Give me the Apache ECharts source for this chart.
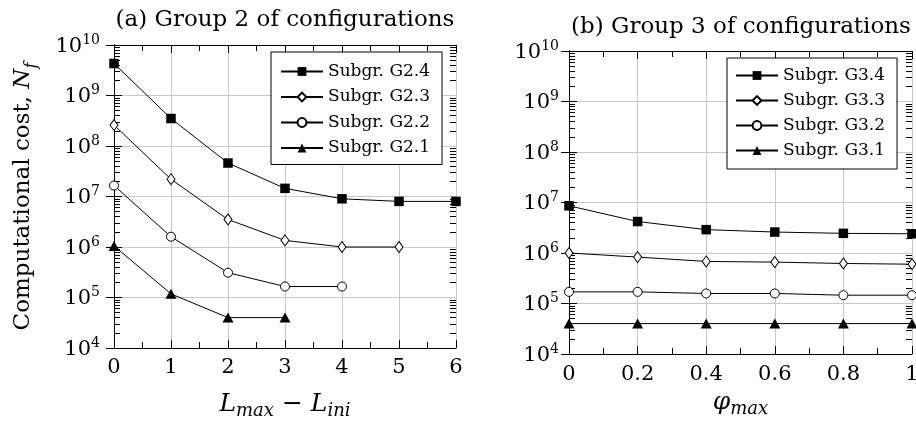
<!DOCTYPE html>
<html>
<head>
<meta charset="utf-8">
<script src="https://cdn.jsdelivr.net/npm/echarts@6/dist/echarts.min.js"></script>
<style>html,body{margin:0;padding:0;background:#fff}#c{width:916px;height:421px}</style>
</head>
<body>
<div id="c"></div>
<script>
// ---- data ----
const xA = [0, 1, 2, 3, 4, 5, 6];
const g24 = [4.3e9, 3.5e8, 4.6e7, 1.45e7, 9.0e6, 8.0e6, 8.0e6];
const g23 = [2.6e8, 2.2e7, 3.5e6, 1.35e6, 1.0e6, 1.0e6];
const g22 = [1.65e7, 1.6e6, 3.1e5, 1.65e5, 1.65e5];
const g21 = [1.05e6, 1.18e5, 4.0e4, 4.0e4];

const xB = [0, 0.2, 0.4, 0.6, 0.8, 1];
const g34 = [8.6e6, 4.2e6, 2.9e6, 2.6e6, 2.45e6, 2.4e6];
const g33 = [1.0e6, 8.3e5, 6.8e5, 6.6e5, 6.2e5, 6.0e5];
const g32 = [1.7e5, 1.7e5, 1.58e5, 1.58e5, 1.46e5, 1.46e5];
const g31 = [4.0e4, 4.0e4, 4.0e4, 4.0e4, 4.0e4, 4.0e4];

const namesA = ['Subgr. G2.4', 'Subgr. G2.3', 'Subgr. G2.2', 'Subgr. G2.1'];
const namesB = ['Subgr. G3.4', 'Subgr. G3.3', 'Subgr. G3.2', 'Subgr. G3.1'];
const titleA = '(a) Group 2 of configurations';
const titleB = '(b) Group 3 of configurations';
const yMinExp = 4, yMaxExp = 10;   // decades 10^4 .. 10^10

// ---- styling helpers ----
const FF = "'DejaVu Serif', serif";
const TICK = '#000';
const yMinorExp = [];
for (let e = yMinExp; e < yMaxExp; e++) for (let k = 2; k <= 9; k++) yMinorExp.push(Math.log10(k) + e);

const markerStyles = [
  { symbol: 'rect', symbolSize: 9.5, itemStyle: { color: '#000', borderColor: '#000', borderWidth: 0 } },
  { symbol: 'diamond', symbolSize: [8, 11], itemStyle: { color: '#fff', borderColor: '#000', borderWidth: 1 } },
  { symbol: 'circle', symbolSize: 9, itemStyle: { color: '#fff', borderColor: '#000', borderWidth: 1 } },
  { symbol: 'triangle', symbolSize: [11, 10], itemStyle: { color: '#000', borderColor: '#000', borderWidth: 0 } }
];

const yRich = {
  b: { fontSize: 21, fontFamily: FF, color: '#000', lineHeight: 24, padding: [4, 0, 0, 0], verticalAlign: 'bottom' },
  e: { fontSize: 14, fontFamily: FF, color: '#000', lineHeight: 14, verticalAlign: 'top' }
};
const yFmt = v => '{b|10}{e|' + Math.round(Math.log10(v)) + '}';

function yAxesFor(gi, labelMargin) {
  const deco = { type: 'value', min: yMinExp, max: yMaxExp, gridIndex: gi, axisLabel: { show: false }, splitLine: { show: false } };
  return [
    {
      type: 'log', logBase: 10, min: Math.pow(10, yMinExp), max: Math.pow(10, yMaxExp), gridIndex: gi,
      position: 'left',
      axisLine: { show: true, lineStyle: { color: '#000', width: 1 } },
      axisTick: { show: true, inside: true, length: 8, lineStyle: { color: TICK } },
      minorTick: { show: true, splitNumber: 9, length: 6, lineStyle: { color: TICK, width: 1 } },
      axisLabel: { show: true, margin: labelMargin, formatter: yFmt, rich: yRich },
      splitLine: { show: true, lineStyle: { color: '#c8c8c8', width: 1 } }
    },
    Object.assign({}, deco, {
      position: 'right', interval: 1,
      axisLine: { show: true, lineStyle: { color: '#000', width: 1 } },
      axisTick: { show: true, inside: true, length: 8, lineStyle: { color: TICK } }
    }),
    Object.assign({}, deco, {
      position: 'right',
      axisLine: { show: false },
      axisTick: { show: true, inside: true, length: 6, customValues: yMinorExp, lineStyle: { color: TICK, width: 1 } }
    })
  ];
}

function xAxesFor(gi, max, interval, labelMargin, name, nameGap, decimals) {
  const base = {
    type: 'value', min: 0, max: max, interval: interval, gridIndex: gi,
    axisLine: { show: true, lineStyle: { color: '#000', width: 1 } },
    axisTick: { show: true, inside: true, length: 8, lineStyle: { color: TICK } },
    minorTick: { show: true, splitNumber: 2, length: 6, lineStyle: { color: TICK, width: 1 } }
  };
  return [
    Object.assign({}, base, {
      position: 'bottom',
      axisLabel: {
        show: true, margin: labelMargin, fontFamily: FF, fontSize: 21, color: '#000',
        formatter: v => (decimals ? (v === 0 || v === 1 ? String(v) : v.toFixed(1)) : String(v))
      },
      splitLine: { show: true, lineStyle: { color: '#c8c8c8', width: 1 } },
      name: name, nameLocation: 'middle', nameGap: nameGap,
      nameTextStyle: {
        rich: {
          i: { fontFamily: FF, fontStyle: 'italic', fontSize: 25, color: '#000', lineHeight: 28, verticalAlign: 'top' },
          m: { fontFamily: FF, fontSize: 25, color: '#000', lineHeight: 28, verticalAlign: 'top' },
          s: { fontFamily: FF, fontStyle: 'italic', fontSize: 18, color: '#000', lineHeight: 18, verticalAlign: 'bottom' }
        }
      }
    }),
    Object.assign({}, base, {
      position: 'top',
      axisLabel: { show: false },
      splitLine: { show: false }
    })
  ];
}

function seriesFor(names, xs, arrays, gi) {
  return arrays.map((arr, i) => Object.assign({
    name: names[i],
    type: 'line',
    xAxisIndex: gi * 2,
    yAxisIndex: gi * 3,
    data: arr.map((v, j) => [xs[j], v]),
    lineStyle: { color: '#000', width: 1 },
    clip: false,
    z: 5
  }, markerStyles[i]));
}

function legendFor(names, left, top, padding, gap) {
  return {
    data: names, orient: 'vertical', left: left, top: top,
    backgroundColor: '#fff', borderColor: '#000', borderWidth: 1, borderRadius: 0,
    padding: padding, itemGap: gap, itemWidth: 42, itemHeight: 11,
    textStyle: { fontFamily: FF, fontSize: 17, color: '#000', lineHeight: 17 },
    z: 10
  };
}

const chart = echarts.init(document.getElementById('c'), null, { renderer: 'canvas' });
chart.setOption({
  animation: false,
  backgroundColor: '#fff',
  title: [
    { text: titleA, left: 285, top: 9, textAlign: 'center', padding: 0,
      textStyle: { fontFamily: FF, fontSize: 23, fontWeight: 'normal', color: '#000' } },
    { text: titleB, left: 741, top: 16, textAlign: 'center', padding: 0,
      textStyle: { fontFamily: FF, fontSize: 23, fontWeight: 'normal', color: '#000' } }
  ],
  grid: [
    { left: 114, top: 45, width: 342, height: 303, outerBoundsMode: 'none' },
    { left: 569, top: 51, width: 343, height: 303, outerBoundsMode: 'none' }
  ],
  legend: [
    legendFor(namesA, 271, 52, [11, 12, 8, 9], 8.5),
    legendFor(namesB, 727, 58, [9, 12, 10, 8], 8)
  ],
  xAxis: [
    ...xAxesFor(0, 6, 1, 9, '{i|L}{s|max}{m| − }{i|L}{s|ini}', 44, false),
    ...xAxesFor(1, 1, 0.2, 10, '{i|φ}{s|max}', 36, true)
  ],
  yAxis: [
    ...yAxesFor(0, 14).map((a, k) => k === 0 ? Object.assign(a, {
      name: '{t|Computational cost, }{i|N}{s|f}', nameLocation: 'middle', nameGap: 74, nameRotate: 90,
      nameTextStyle: {
        rich: {
          t: { fontFamily: FF, fontSize: 23, color: '#000', lineHeight: 28, verticalAlign: 'top' },
          i: { fontFamily: FF, fontStyle: 'italic', fontSize: 23, color: '#000', lineHeight: 28, verticalAlign: 'top' },
          s: { fontFamily: FF, fontStyle: 'italic', fontSize: 16, color: '#000', lineHeight: 16, verticalAlign: 'bottom' }
        }
      }
    }) : a),
    ...yAxesFor(1, 10)
  ],
  series: [
    ...seriesFor(namesA, xA, [g24, g23, g22, g21], 0),
    ...seriesFor(namesB, xB, [g34, g33, g32, g31], 1)
  ]
});
</script>
</body>
</html>
